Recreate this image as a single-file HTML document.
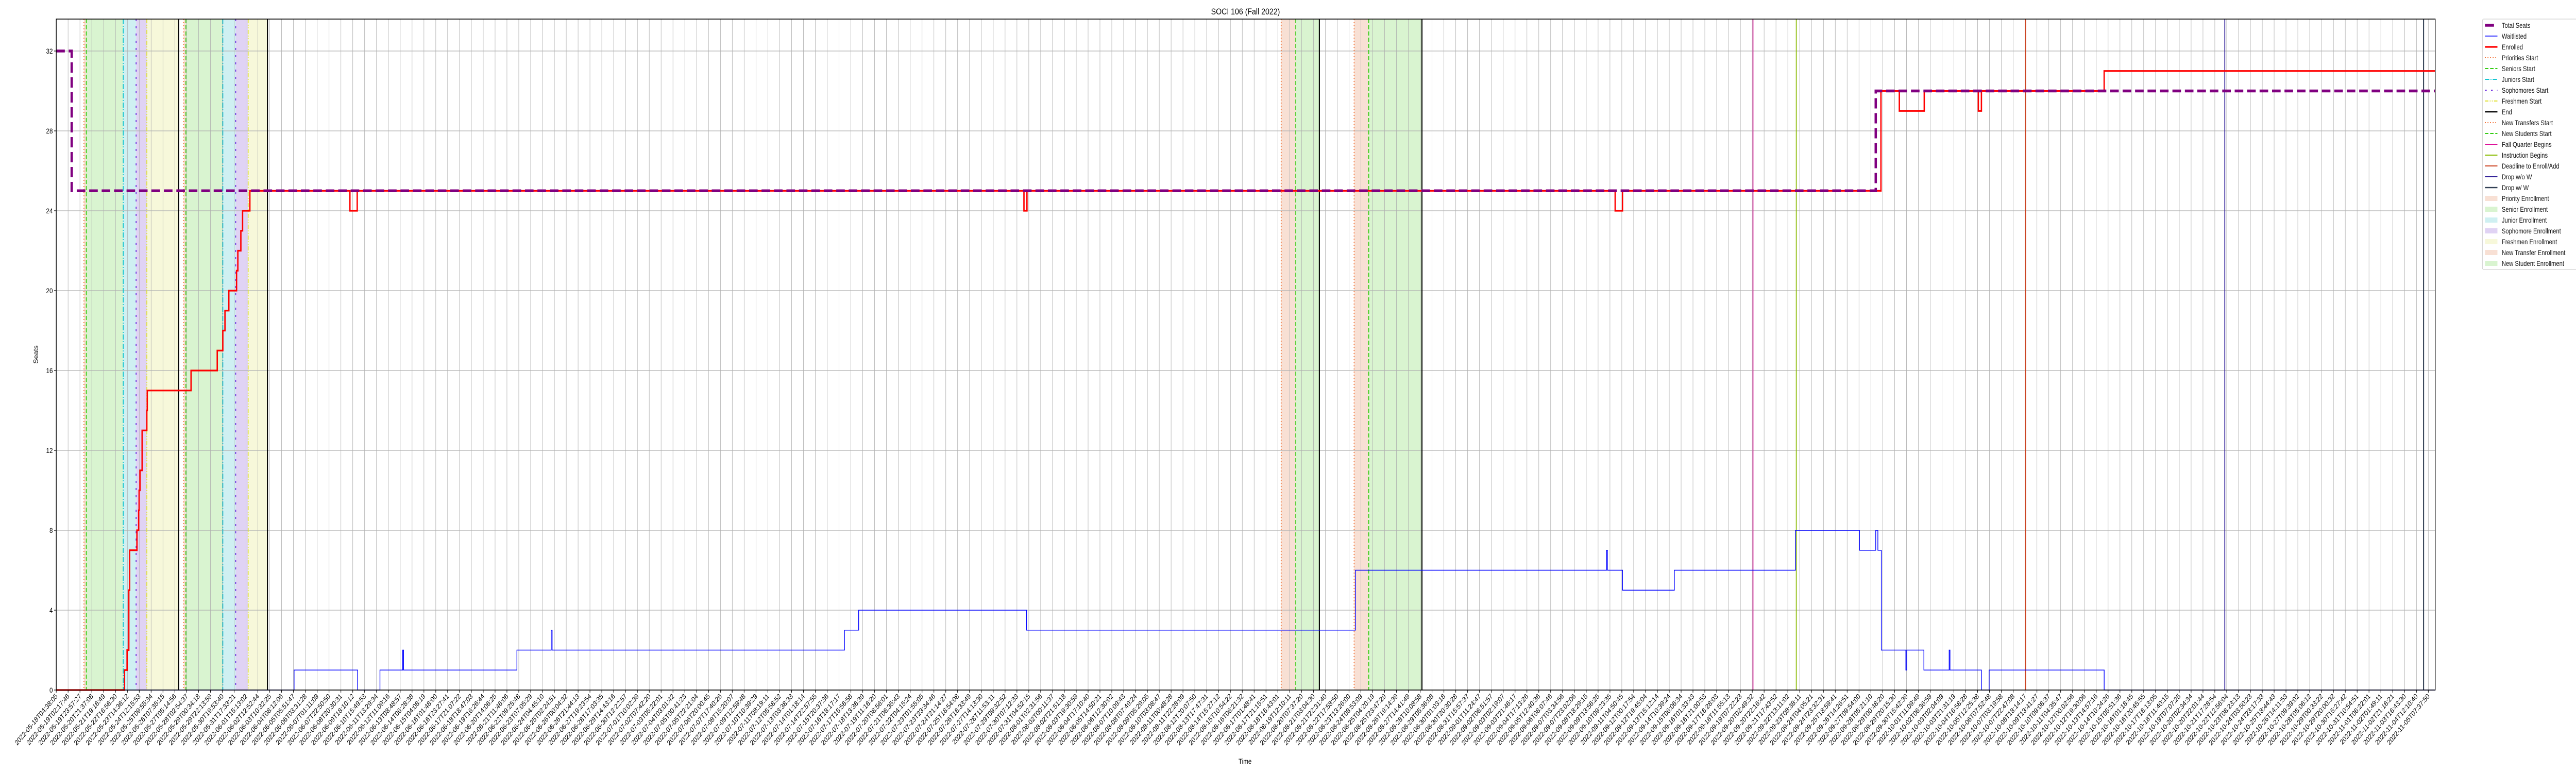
<!DOCTYPE html>
<html><head><meta charset="utf-8"><title>SOCI 106 (Fall 2022)</title>
<style>
html,body{margin:0;padding:0;background:#fff;overflow:hidden;}
svg{display:block;width:100vw;height:100vh;font-family:"Liberation Sans","DejaVu Sans",sans-serif;}
</style></head>
<body>
<svg id="chart" xmlns="http://www.w3.org/2000/svg" viewBox="0 0 6000 1500" preserveAspectRatio="none" overflow="hidden">
<rect width="6000" height="1500" fill="#fff"/>
<g id="spans"></g>
<g id="grid"></g>
<g id="vlines"></g>
<g id="series"></g>
<g id="axes"></g>
<text x="2901" y="28" text-anchor="middle" font-size="17">SOCI 106 (Fall 2022)</text>
<text x="2900" y="1482" text-anchor="middle" font-size="14">Time</text>
<text x="0" y="0" transform="translate(88,688) rotate(-90)" text-anchor="middle" font-size="14">Seats</text>
<g id="legend"></g>
</svg>
<script>
// x values are in tick-index units (0 = first tick, 200 = last tick)
const tickStartLabel = "2022-05-18T04:38:05";
const tickMidLabel = "2022-08-14T15:27:12";
const tickEndLabel = "2022-11-05T07:37:50";
const tickAnchorIdx = [0, 98, 200];
const yTicks = [0, 4, 8, 12, 16, 20, 24, 28, 32];

const seatsT = [0, 1.303, 153.41];
const seatsV = [32, 25, 30];

const enrolledT = [0, 5.756, 5.973, 6.118, 6.190, 6.805, 6.950, 6.986, 7.059, 7.240, 7.638, 7.674, 11.367, 13.575, 14.045, 14.226, 14.552, 15.204, 15.312, 15.566, 15.710, 16.326, 24.760, 25.376, 81.593, 81.846, 131.44, 132.06, 153.85, 155.40, 157.50, 162.06, 162.32, 172.67];
const enrolledV = [0, 1, 2, 5, 7, 8, 9, 10, 11, 13, 14, 15, 16, 17, 18, 19, 20, 21, 22, 23, 24, 25, 24, 25, 24, 25, 24, 25, 30, 29, 30, 29, 30, 31];

const waitT = [0, 20.054, 25.412, 27.294, 29.213, 29.285, 38.842, 41.738, 41.810, 66.462, 67.656, 81.810, 109.54, 130.71, 130.79, 132.06, 136.43, 146.64, 152.04, 153.41, 153.59, 153.88, 155.95, 156.02, 157.47, 159.60, 159.67, 162.32, 162.97, 172.67];
const waitV = [0, 1, 0, 1, 2, 1, 2, 3, 2, 3, 4, 3, 6, 7, 6, 5, 6, 8, 7, 8, 7, 2, 1, 2, 1, 2, 1, 0, 1, 0];

const spanStarts = [2.335, 2.534, 5.647, 6.733, 7.638, 10.751, 10.932, 14.045, 15.131, 16.181, 103.28, 104.51, 109.43, 110.66];
const spanEnds   = [2.534, 5.647, 6.733, 7.638, 10.317, 10.932, 14.045, 15.131, 16.181, 17.810, 104.51, 106.50, 110.66, 115.15];
const spanKinds  = ["priority","senior","junior","soph","fresh","priority","senior","junior","soph","fresh","transfer","newstudent","transfer","newstudent"];

const eventT = [2.335, 2.534, 5.647, 6.733, 7.638, 10.317, 10.751, 10.932, 14.045, 15.131, 16.181, 17.810, 103.28, 104.51, 106.50, 109.43, 110.66, 115.15, 143.06, 146.71, 166.05, 182.84, 199.60];
const eventKind = ["prio","senior","junior","soph","fresh","end","prio","senior","junior","soph","fresh","end","transfer","newstud","end","transfer","newstud","end","fall","instr","deadline","dropwo","dropw"];

const X0 = 131, X1 = 5672, Y0 = 1339, Y1 = 37, TICKPX = 27.625;
const xEnd = (X1 - X0) / TICKPX;
function xs(t){ return X0 + t * TICKPX; }
function ys(v){ return Y0 - v * 38.75; }
const NS = "http://www.w3.org/2000/svg";
function mk(tag, attrs, parent){ const e=document.createElementNS(NS,tag); for(const k in attrs) e.setAttribute(k,attrs[k]); parent.appendChild(e); return e; }

const spanColor = {priority:"#f8e0d4",senior:"#d9f4d0",junior:"#cff0f2",soph:"#e0d3f4",fresh:"#f7f8da",transfer:"#f8e0d4",newstudent:"#d9f4d0"};
const spansG = document.getElementById("spans");
for (let i=0;i<spanStarts.length;i++){
  const r = mk("rect",{x:xs(spanStarts[i]),y:Y1,width:xs(spanEnds[i])-xs(spanStarts[i]),height:Y0-Y1,fill:spanColor[spanKinds[i]]},spansG);
  
  
}

const gridG = document.getElementById("grid");
for (let i=0;i<=200;i++){
  const l = mk("line",{x1:xs(i),x2:xs(i),y1:Y1,y2:Y0,stroke:"#b0b0b0","stroke-width":1},gridG);
  
  
}
for (const v of yTicks){
  const l = mk("line",{x1:X0,x2:X1,y1:ys(v),y2:ys(v),stroke:"#b0b0b0","stroke-width":1.3},gridG);
  
  
}

const evStyle = {
  prio:{c:"#f26b2c",w:2,d:"2 4"}, senior:{c:"#33cc11",w:2,d:"8 4"}, junior:{c:"#11c4d0",w:2,d:"10 3 2 3"},
  soph:{c:"#6622dd",w:2,d:"4 10"}, fresh:{c:"#e0e030",w:2,d:"8 3 2 3 2 3"}, end:{c:"#000",w:2.5,d:""},
  transfer:{c:"#f26b2c",w:2,d:"2 4"}, newstud:{c:"#33cc11",w:2,d:"8 4"}, fall:{c:"#dd1199",w:2,d:""},
  instr:{c:"#88bb00",w:2,d:""}, deadline:{c:"#cc4422",w:2,d:""}, dropwo:{c:"#332299",w:2,d:""}, dropw:{c:"#334155",w:2.5,d:""}
};
const vG = document.getElementById("vlines");
for (let i=0;i<eventT.length;i++){
  const s = evStyle[eventKind[i]];
  const a = {x1:xs(eventT[i]),x2:xs(eventT[i]),y1:Y1,y2:Y0,stroke:s.c,"stroke-width":s.w};
  if (s.d) a["stroke-dasharray"]=s.d;
  const l = mk("line",a,vG);
  
  
}

function stepPath(T,V){
  let d = "M"+xs(T[0])+","+ys(V[0]);
  for (let i=1;i<T.length;i++){ d += " H"+xs(T[i])+" V"+ys(V[i]); }
  d += " H"+xs(xEnd);
  return d;
}
const sG = document.getElementById("series");
const pw = mk("path",{d:stepPath(waitT,waitV),fill:"none",stroke:"#0000ff","stroke-width":1.6},sG);


const pe = mk("path",{d:stepPath(enrolledT,enrolledV),fill:"none",stroke:"#ff0000","stroke-width":3.2},sG);


const ps = mk("path",{d:stepPath(seatsT,seatsV),fill:"none",stroke:"#800080","stroke-width":5.5,"stroke-dasharray":"20 9"},sG);



const axG = document.getElementById("axes");
const frame = mk("rect",{x:X0,y:Y1,width:X1-X0,height:Y0-Y1,fill:"none",stroke:"#000","stroke-width":1.6},axG);


for (const v of yTicks){
  const t = mk("line",{x1:X0-5,x2:X0,y1:ys(v),y2:ys(v),stroke:"#000","stroke-width":1.2},axG);
  
  
  const tx = mk("text",{x:X0-8,y:ys(v)+5,"text-anchor":"end","font-size":14},axG);
  tx.textContent = String(v);
  
  
}
function parseT(s){ return Date.parse(s+"Z"); }
const anchorMs = [parseT(tickStartLabel), parseT(tickMidLabel), parseT(tickEndLabel)];
function labelFor(i){
  let k = i <= tickAnchorIdx[1] ? 0 : 1;
  const f = (i - tickAnchorIdx[k])/(tickAnchorIdx[k+1]-tickAnchorIdx[k]);
  const ms = anchorMs[k] + f*(anchorMs[k+1]-anchorMs[k]);
  return new Date(Math.round(ms/1000)*1000).toISOString().slice(0,19);
}
for (let i=0;i<=200;i++){
  const x = xs(i);
  const t = mk("line",{x1:x,x2:x,y1:Y0,y2:Y0+5,stroke:"#000","stroke-width":1.2},axG);
  
  
  const tx = mk("text",{x:0,y:0,transform:"translate("+(x+4)+","+(Y0+13)+") rotate(-45)","text-anchor":"end","font-size":14},axG);
  tx.textContent = labelFor(i);
  
  
}

const legendLabels = ["Total Seats","Waitlisted","Enrolled","Priorities Start","Seniors Start","Juniors Start","Sophomores Start","Freshmen Start","End","New Transfers Start","New Students Start","Fall Quarter Begins","Instruction Begins","Deadline to Enroll/Add","Drop w/o W","Drop w/ W","Priority Enrollment","Senior Enrollment","Junior Enrollment","Sophomore Enrollment","Freshmen Enrollment","New Transfer Enrollment","New Student Enrollment"];
const legendKeys = ["seats","wait","enr","prio","senior","junior","soph","fresh","end","transfer","newstud","fall","instr","deadline","dropwo","dropw","s:priority","s:senior","s:junior","s:soph","s:fresh","s:transfer","s:newstudent"];
const lg = document.getElementById("legend");
const box = mk("rect",{x:5782,y:37,width:222,height:486,rx:3,fill:"#fff","fill-opacity":0.85,stroke:"#d0d0d0","stroke-width":1.2},lg);


for (let i=0;i<legendLabels.length;i++){
  const y = 49 + i*21;
  const k = legendKeys[i];
  const g = mk("g",{},lg);
  
  
  if (k.startsWith("s:")){
    mk("rect",{x:5788,y:y-5,width:29,height:10,fill:spanColor[k.slice(2)]},g);
  } else if (k==="seats"){
    mk("line",{x1:5788,x2:5809,y1:y,y2:y,stroke:"#800080","stroke-width":5.5},g);
  } else if (k==="wait"){
    mk("line",{x1:5788,x2:5817,y1:y,y2:y,stroke:"#0000ff","stroke-width":1.6},g);
  } else if (k==="enr"){
    mk("line",{x1:5788,x2:5817,y1:y,y2:y,stroke:"#ff0000","stroke-width":3.2},g);
  } else {
    const s = evStyle[k];
    const a = {x1:5788,x2:5817,y1:y,y2:y,stroke:s.c,"stroke-width":s.w};
    if (s.d) a["stroke-dasharray"]=s.d;
    mk("line",a,g);
  }
  const tx = mk("text",{x:5827,y:y+5,"font-size":13.5,fill:"#111"},g);
  tx.textContent = legendLabels[i];
}
</script>
</body></html>
